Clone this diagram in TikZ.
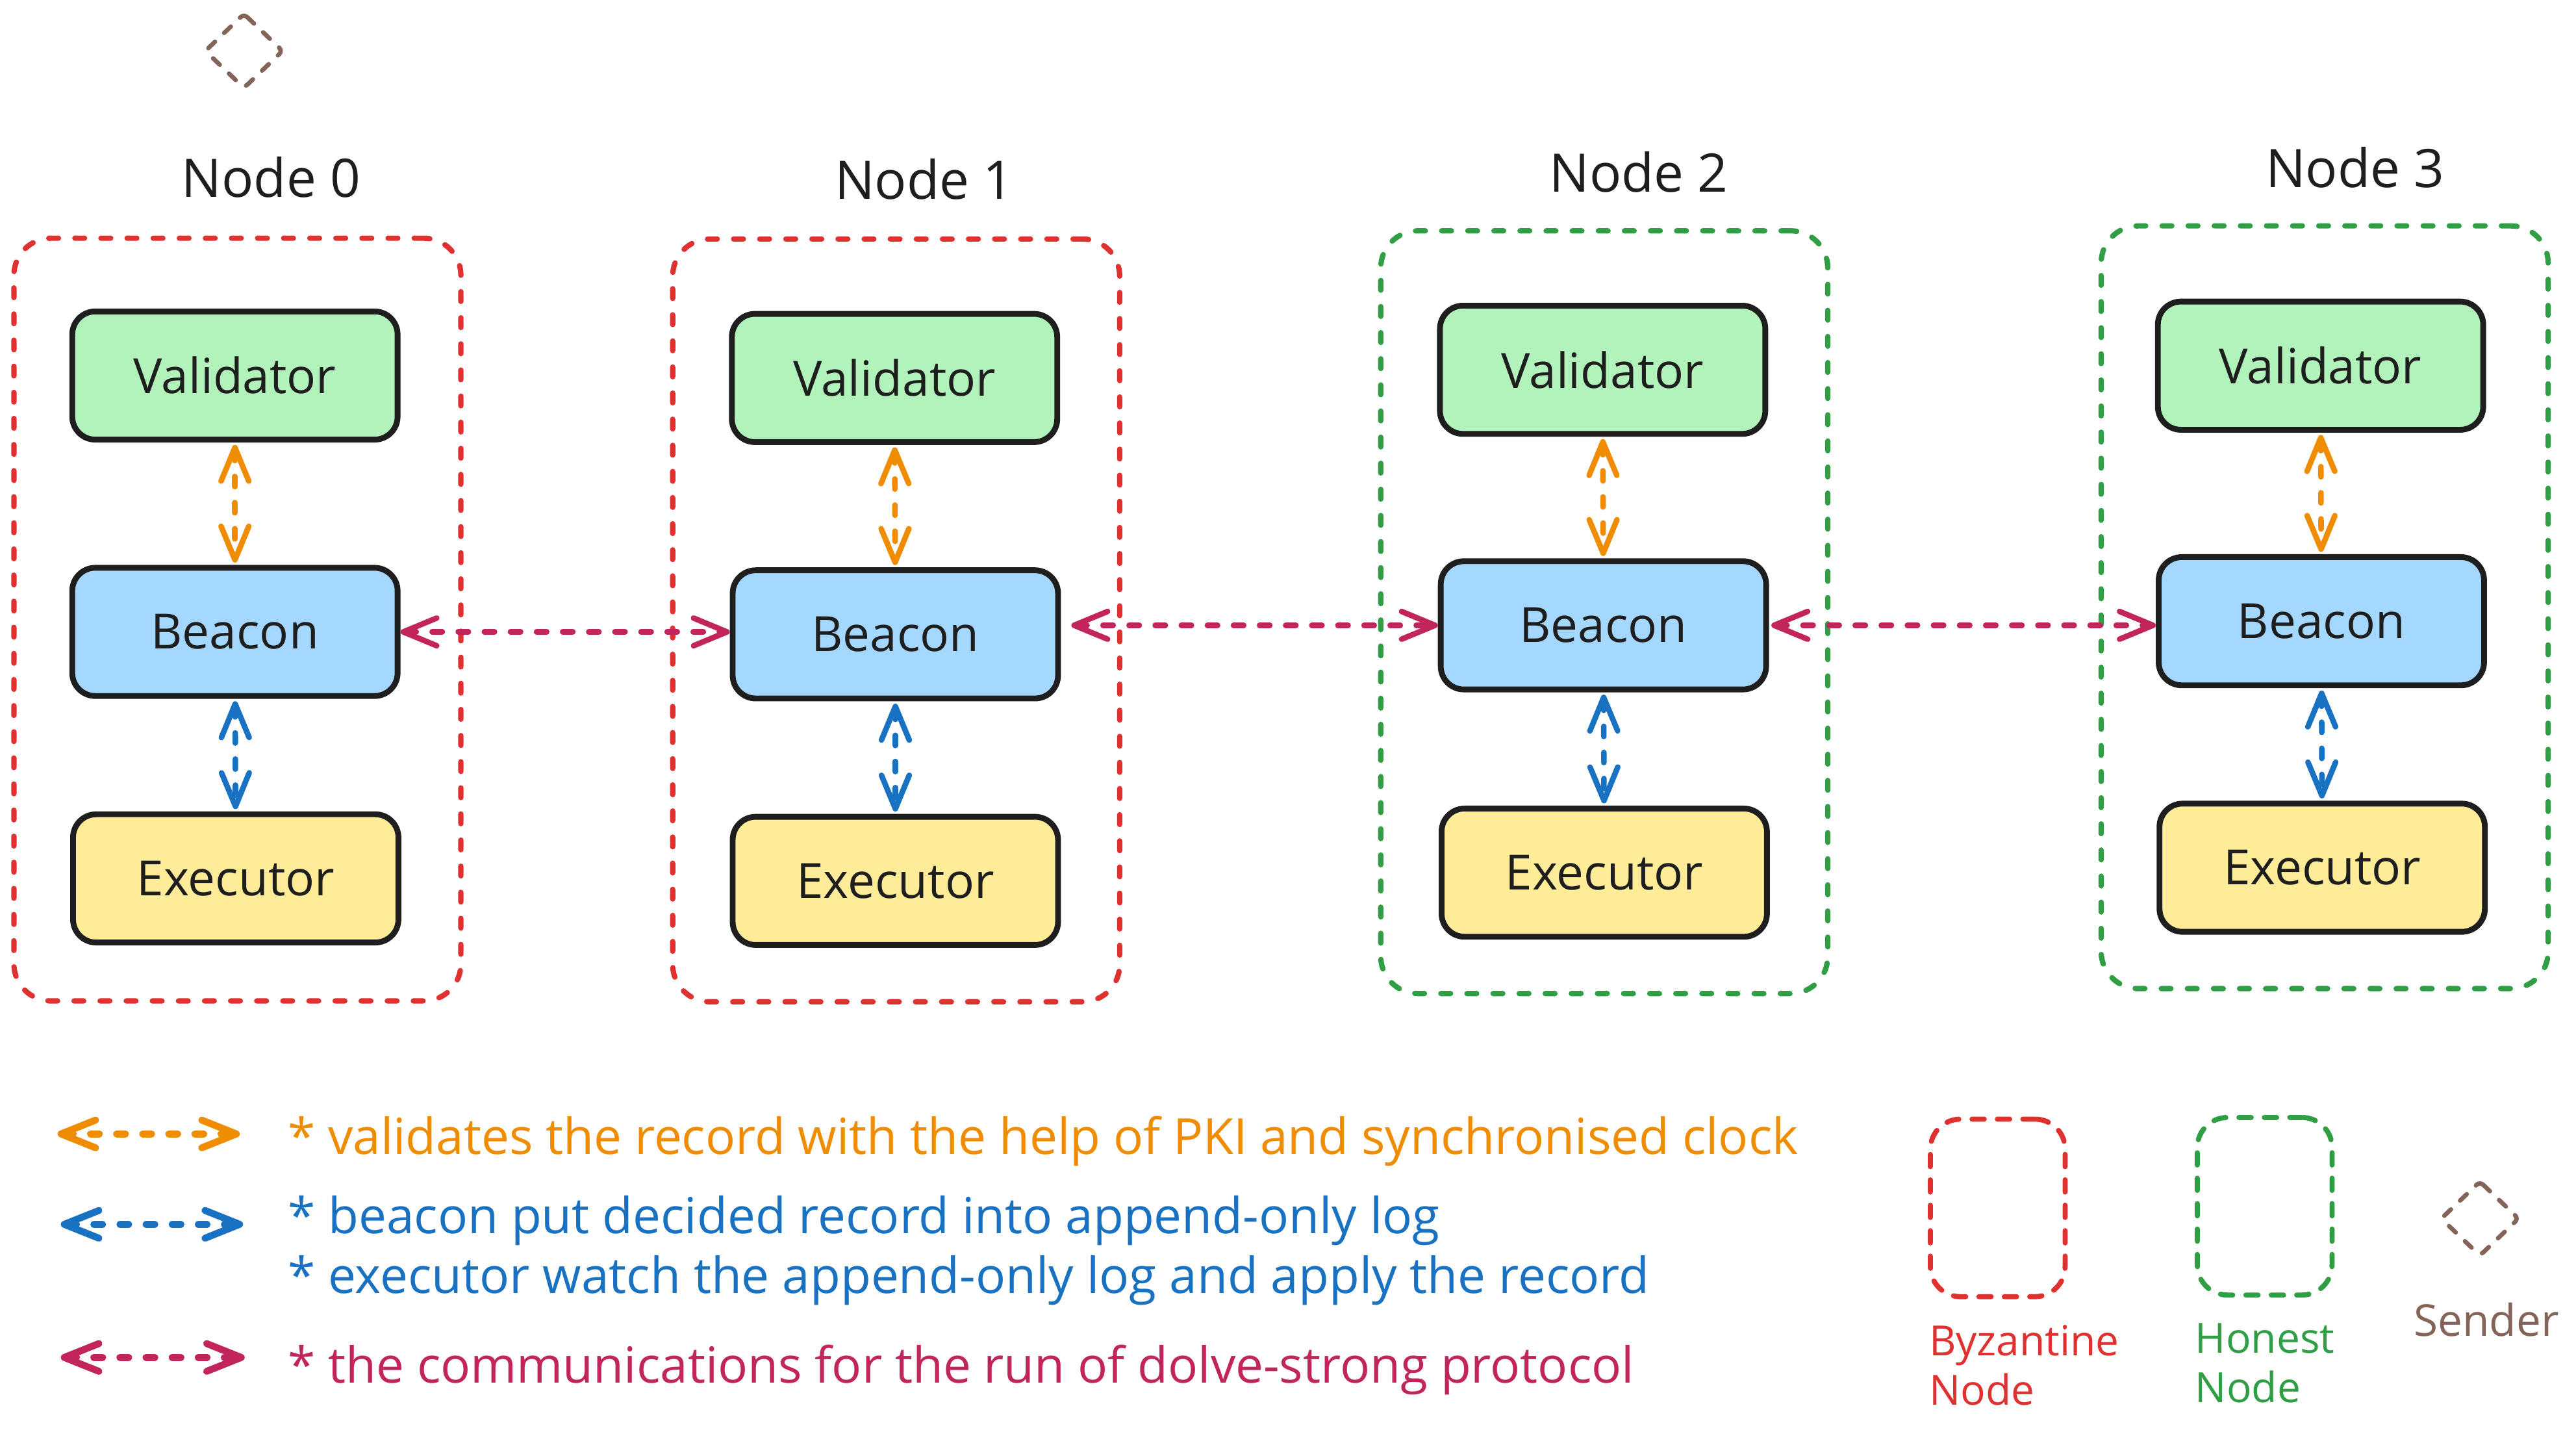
\documentclass[tikz,border=0pt]{standalone}
\usepackage{fontspec}
\setmainfont{Open Sans}
\usetikzlibrary{arrows.meta}
\definecolor{cred}{HTML}{E03131}
\definecolor{cgreen}{HTML}{2F9E44}
\definecolor{cbrown}{HTML}{846358}
\definecolor{corange}{HTML}{F08C00}
\definecolor{cblue}{HTML}{1971C2}
\definecolor{ccrim}{HTML}{C2255C}
\definecolor{cink}{HTML}{1E1E1E}
\definecolor{fval}{HTML}{B2F2BB}
\definecolor{fbea}{HTML}{A5D8FF}
\definecolor{fexe}{HTML}{FFEC99}
\tikzset{
  compbox/.style={draw=cink, line width=2.5pt, rounded corners=10pt,
    minimum width=4.95cm, minimum height=1.95cm, inner sep=0pt,
    font=\fontsize{21}{25}\selectfont, text=cink},
  valbox/.style={compbox, fill=fval},
  beabox/.style={compbox, fill=fbea},
  exebox/.style={compbox, fill=fexe},
  contbox/.style={line width=2.3pt, rounded corners=16pt, line cap=round,
    dash pattern=on 4.2pt off 7.1pt, minimum width=6.8cm, minimum height=11.6cm, inner sep=0pt},
  byzcont/.style={contbox, draw=cred},
  honcont/.style={contbox, draw=cgreen},
  nodetitle/.style={anchor=base, inner sep=0pt, font=\fontsize{23}{27}\selectfont, text=cink},
  dasharrow/.style={line width=2.4pt, line cap=round, dash pattern=on 4.4pt off 6.9pt,
    {Straight Barb[length=14.5pt,width=12pt,round]}-{Straight Barb[length=14.5pt,width=12pt,round]}},
  orarrow/.style={dasharrow, draw=corange, shorten <=1pt, shorten >=1pt},
  blarrow/.style={dasharrow, draw=cblue, shorten <=1pt, shorten >=1pt},
  crarrow/.style={dasharrow, draw=ccrim},
  legarrow/.style={line width=3pt, line cap=round, dash pattern=on 3.8pt off 7.5pt,
    {Straight Barb[length=15pt,width=12pt,round]}-{Straight Barb[length=15pt,width=12pt,round]}},
  legtext/.style={anchor=base west, inner sep=0pt, font=\fontsize{21.5}{25}\selectfont},
  legbox/.style={line width=2.2pt, rounded corners=13pt, line cap=round,
    dash pattern=on 5.3pt off 5.7pt, minimum width=2.05cm, minimum height=2.7cm, inner sep=0pt},
  keytext/.style={anchor=base west, inner sep=0pt, align=left, font=\fontsize{18}{21.5}\selectfont},
  senderline/.style={draw=cbrown, line width=1.9pt, line cap=round, rounded corners=2pt,
    dash pattern=on 4pt off 5.5pt},
}
\begin{document}
\begin{tikzpicture}[x=0.025cm, y=-0.025cm]
\useasboundingbox[fill=white] (0,0) rectangle (1568,871);

% sender diamond (top)
\draw[senderline] (148.5,8.5) -- (172,31) -- (148.5,53.5) -- (125,31) -- cycle;

% containers
\node[byzcont] (cont0) at (144.5,377) {};
\node[byzcont] (cont1) at (545.5,377.5) {};
\node[honcont] (cont2) at (976.5,372.5) {};
\node[honcont] (cont3) at (1415,369.5) {};

% titles
\node[nodetitle] (t0) at (165,120) {Node 0};
\node[nodetitle] (t1) at (562.5,121) {Node 1};
\node[nodetitle] (t2) at (997.5,117) {Node 2};
\node[nodetitle] (t3) at (1433.5,114) {Node 3};

% components
\node[valbox] (val0) at (143,228.5) {Validator};
\node[beabox] (bea0) at (143,384.5) {Beacon};
\node[exebox] (exe0) at (143.5,534.5) {Executor};

\node[valbox] (val1) at (544.5,230) {Validator};
\node[beabox] (bea1) at (545,386) {Beacon};
\node[exebox] (exe1) at (545,536) {Executor};

\node[valbox] (val2) at (975.5,225) {Validator};
\node[beabox] (bea2) at (976,380.5) {Beacon};
\node[exebox] (exe2) at (976.5,531) {Executor};

\node[valbox] (val3) at (1412.5,222.5) {Validator};
\node[beabox] (bea3) at (1413,378) {Beacon};
\node[exebox] (exe3) at (1413.5,528) {Executor};

% inner arrows
\draw[orarrow] (val0) -- (bea0);
\draw[blarrow] (bea0) -- (exe0);
\draw[orarrow] (val1) -- (bea1);
\draw[blarrow] (bea1) -- (exe1);
\draw[orarrow] (val2) -- (bea2);
\draw[blarrow] (bea2) -- (exe2);
\draw[orarrow] (val3) -- (bea3);
\draw[blarrow] (bea3) -- (exe3);

% communication arrows
\draw[crarrow] (bea0.east) -- (bea0.east -| bea1.west);
\draw[crarrow, shorten <=4.5pt] (bea1.east |- bea2.west) -- (bea2.west);
\draw[crarrow, shorten <=1pt] (bea2.east) -- (bea2.east -| bea3.west);

% legend arrows
\coordinate (lo1) at (35,690);  \coordinate (lo2) at (146,690);
\coordinate (lb1) at (37,745);  \coordinate (lb2) at (148,745);
\coordinate (lc1) at (37,826);  \coordinate (lc2) at (149,826);
\draw[legarrow, draw=corange] (lo1) -- (lo2);
\draw[legarrow, draw=cblue] (lb1) -- (lb2);
\draw[legarrow, draw=ccrim] (lc1) -- (lc2);

% legend texts
\node[legtext, text=corange] (lt1) at (175,702.5) {* validates the record with the help of PKI and synchronised clock};
\node[legtext, text=cblue] (lt2) at (175,750.5) {* beacon put decided record into append-only log};
\node[legtext, text=cblue] (lt3) at (175,787) {* executor watch the append-only log and apply the record};
\node[legtext, text=ccrim] (lt4) at (175,841.5) {* the communications for the run of dolve-strong protocol};

% key boxes
\node[legbox, draw=cred] (kbyz) at (1216,735) {};
\node[legbox, draw=cgreen] (khon) at (1378.5,734) {};
\node[keytext, text=cred] (kbyzt) at (1174,855) {Byzantine\\Node};
\node[keytext, text=cgreen] (khont) at (1336,853.5) {Honest\\Node};
\draw[senderline] (1509.5,719) -- (1533,741.5) -- (1509.5,764) -- (1486,741.5) -- cycle;
\node[keytext, text=cbrown, font=\fontsize{19}{23}\selectfont] (ksend) at (1469,813) {Sender};
\end{tikzpicture}
\end{document}
